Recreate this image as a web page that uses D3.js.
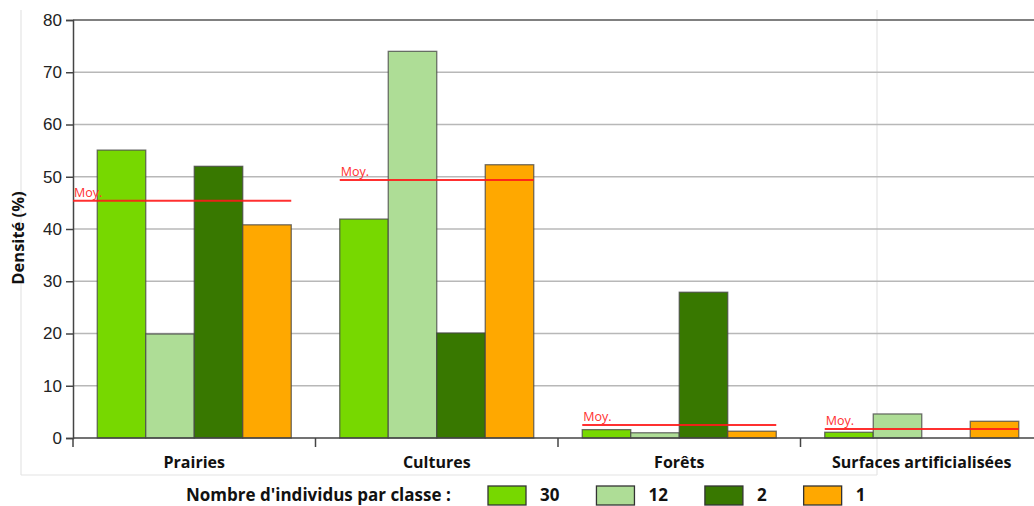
<!DOCTYPE html>
<html><head><meta charset="utf-8">
<script src="https://cdn.jsdelivr.net/npm/d3@7"></script>
<style>body{margin:0;background:#fff}svg{display:block}</style>
</head><body><svg id="c" width="1034" height="506"></svg>
<script>
const categories = ["Prairies", "Cultures", "Forêts", "Surfaces artificialisées"];
const seriesNames = ["30", "12", "2", "1"];
const s30 = [55.1, 41.9, 1.6, 1.1];
const s12 = [19.9, 74.0, 1.0, 4.6];
const s2  = [52.0, 20.1, 27.9, 0];
const s1  = [40.8, 52.3, 1.3, 3.2];
const means = [45.4, 49.4, 2.5, 1.7];
const yTicks = [0, 10, 20, 30, 40, 50, 60, 70, 80];
const colors = ["#77d800", "#aedd96", "#387800", "#ffa800"];
const seriesValues = [s30, s12, s2, s1];

const svg = d3.select("#c");
const x0 = d3.scaleBand().domain(categories).range([73, 1043]).padding(0);
const bw = x0.bandwidth();
const x1 = d3.scaleBand().domain(seriesNames).range([bw * 0.1, bw * 0.9]).padding(0);
const y = d3.scaleLinear().domain([0, 80]).range([438, 20]);
const color = d3.scaleOrdinal().domain(seriesNames).range(colors);

// faint frame
svg.append("g").attr("stroke", "#e4e4e4").attr("stroke-width", 1.2).attr("fill", "none")
  .selectAll("line").data([[21,10,21,475],[21,475,877,475],[877,10,877,475]]).join("line")
  .attr("x1", d => d[0]).attr("y1", d => d[1]).attr("x2", d => d[2]).attr("y2", d => d[3]);

// grid
svg.append("g").selectAll("line").data(yTicks.filter(t => t > 0)).join("line")
  .attr("x1", 73).attr("x2", 1034).attr("y1", d => y(d)).attr("y2", d => y(d))
  .attr("stroke", d => d === 80 ? "#808080" : "#b8b8b8").attr("stroke-width", d => d === 80 ? 2 : 1.5);

// y axis
const yAxis = svg.append("g").attr("transform", "translate(73,0)")
  .call(d3.axisLeft(y).tickValues(yTicks).tickSize(7).tickPadding(4));
yAxis.select(".domain").attr("stroke", "#444").attr("stroke-width", 1.5);
yAxis.selectAll(".tick line").attr("stroke", "#444").attr("stroke-width", 1.5);
yAxis.selectAll(".tick text").attr("font-family", "Liberation Sans, Arial, sans-serif")
  .attr("font-size", 17).attr("fill", "#222");

svg.append("text").attr("transform", "translate(24,238) rotate(-90)")
  .attr("text-anchor", "middle").attr("font-family", "Open Sans, sans-serif")
  .attr("font-weight", "bold").attr("font-size", 16.5).attr("fill", "#111").text("Densité (%)");

// bars
const groups = svg.append("g").selectAll("g").data(categories).join("g")
  .attr("transform", d => `translate(${x0(d)},0)`);
groups.selectAll("rect").data((c, i) => seriesNames.map((s, j) => ({ s, v: seriesValues[j][i] })))
  .join("rect")
  .filter(d => d.v > 0)
  .attr("x", d => x1(d.s)).attr("width", x1.bandwidth())
  .attr("y", d => y(d.v)).attr("height", d => y(0) - y(d.v))
  .attr("fill", d => color(d.s)).attr("stroke", "#444").attr("stroke-opacity", 0.75).attr("stroke-width", 1.3);

// x axis
const xAxis = svg.append("g").attr("transform", "translate(0,438)");
xAxis.append("line").attr("x1", 73).attr("x2", 1034).attr("stroke", "#444").attr("stroke-width", 1.5);
xAxis.selectAll("line.t").data(categories).join("line").attr("class", "t")
  .attr("x1", d => x0(d)).attr("x2", d => x0(d)).attr("y1", 0).attr("y2", 9)
  .attr("stroke", "#444").attr("stroke-width", 1.5);
xAxis.selectAll("text").data(categories).join("text")
  .attr("x", d => x0(d) + bw / 2).attr("y", 30).attr("text-anchor", "middle")
  .attr("font-family", "Open Sans, sans-serif").attr("font-weight", "bold")
  .attr("font-size", 16).attr("fill", "#111").text(d => d);

// mean lines
const mg = svg.append("g");
categories.forEach((c, i) => {
  const xs = i === 0 ? x0(c) : x0(c) + bw * 0.1;
  const xe = x0(c) + bw * 0.9;
  mg.append("line").attr("x1", xs).attr("x2", xe).attr("y1", y(means[i])).attr("y2", y(means[i]))
    .attr("stroke", "#ff1a1a").attr("stroke-width", 2).attr("stroke-opacity", 0.9);
  mg.append("text").attr("x", xs + 1).attr("y", y(means[i]) - 4)
    .attr("font-family", "Open Sans, sans-serif").attr("font-size", 12.5).attr("fill", "#ff3030").text("Moy.");
});

// legend
const lg = svg.append("g").attr("transform", "translate(0,495)");
lg.append("text").attr("x", 186).attr("y", 6)
  .attr("font-family", "Open Sans, sans-serif").attr("font-weight", "bold")
  .attr("font-size", 17).attr("fill", "#111").text("Nombre d'individus par classe :");
let lx = 488;
seriesNames.forEach(s => {
  lg.append("rect").attr("x", lx).attr("y", -9).attr("width", 38).attr("height", 19)
    .attr("fill", color(s)).attr("stroke", "#333").attr("stroke-width", 1.3);
  const t = lg.append("text").attr("x", lx + 52).attr("y", 6)
    .attr("font-family", "Open Sans, sans-serif").attr("font-weight", "bold")
    .attr("font-size", 17).attr("fill", "#111").text(s);
  lx = lx + 52 + t.node().getComputedTextLength() + 37;
});
</script></body></html>
